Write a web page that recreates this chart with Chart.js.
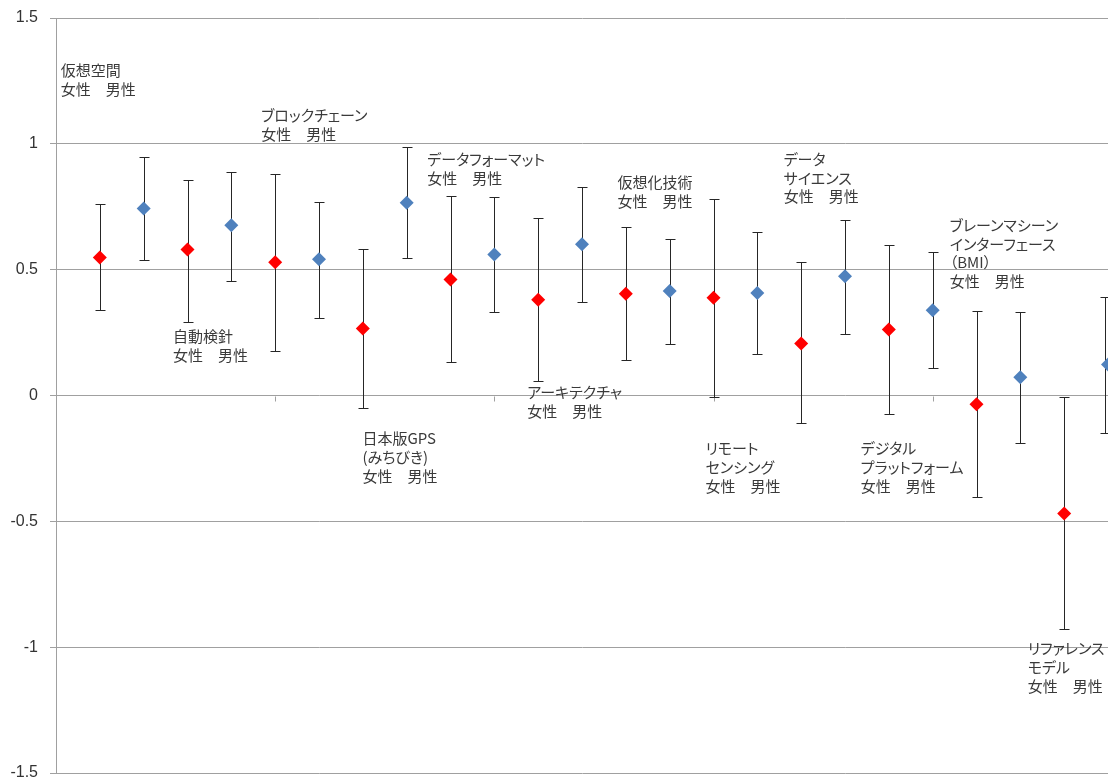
<!DOCTYPE html>
<html>
<head>
<meta charset="utf-8">
<script src="https://cdn.jsdelivr.net/npm/chart.js@4"></script>
<style>
html, body { margin: 0; padding: 0; overflow: hidden; background: #fff; }
#wrap { width: 1108px; height: 790px; position: relative; }
.caption {
    position: absolute;
    font-family: "Noto Sans CJK JP", sans-serif;
    font-size: 15px;
    line-height: 18.7px;
    color: #3a3a3a;
    white-space: nowrap;
    font-feature-settings: "palt";
}
</style>
</head>
<body>
<div id="wrap"><canvas id="chart" width="1108" height="790"></canvas></div>
<script>
// Categories (each has a female / male pair)
var categories = [
    ['仮想空間'], ['自動検針'], ['ブロックチェーン'], ['日本版GPS', '(みちびき)'],
    ['データフォーマット'], ['アーキテクチャ'], ['仮想化技術'], ['リモート', 'センシング'],
    ['データ', 'サイエンス'], ['デジタル', 'プラットフォーム'],
    ['ブレーンマシーン', 'インターフェース', '（BMI）'], ['リファレンス', 'モデル']
];
var pairLabel = '女性　男性';

// Female values (red)
var femaleMean = [0.548, 0.580, 0.529, 0.266, 0.461, 0.380, 0.404, 0.388, 0.207, 0.262, -0.035, -0.469];
var femaleHigh = [0.759, 0.858, 0.882, 0.581, 0.791, 0.705, 0.668, 0.780, 0.529, 0.599, 0.335, -0.004];
var femaleLow  = [0.338, 0.294, 0.175, -0.050, 0.135, 0.056, 0.143, -0.004, -0.111, -0.075, -0.403, -0.929];

// Male values (blue)
var maleMean = [0.743, 0.676, 0.541, 0.766, 0.560, 0.601, 0.415, 0.407, 0.474, 0.339, 0.073, 0.123];
var maleHigh = [0.947, 0.888, 0.768, 0.986, 0.787, 0.828, 0.621, 0.649, 0.697, 0.570, 0.330, 0.391];
var maleLow  = [0.537, 0.453, 0.306, 0.545, 0.330, 0.372, 0.203, 0.163, 0.246, 0.111, -0.188, -0.148];

var yTicks = [-1.5, -1, -0.5, 0, 0.5, 1, 1.5];
var xTickMarks = [5, 10, 15, 20];

// where each category caption sits (x in point units, y of first line in value units)
var captionAnchor = [
    [0.11, 1.292], [2.67, 0.234], [4.68, 1.113], [6.99, -0.171], [8.47, 0.938], [10.75, 0.012],
    [12.81, 0.847], [14.82, -0.211], [16.6, 0.938], [18.36, -0.211], [20.39, 0.676], [22.17, -1.006]
];

function buildPoints(mean, low, high, offset) {
    var pts = [];
    for (var i = 0; i < mean.length; i++) {
        pts.push({ x: i * 2 + offset, y: mean[i], low: low[i], high: high[i] });
    }
    return pts;
}

var gridColor = '#a0a0a0';

var errorBars = {
    id: 'errorBars',
    beforeDatasetsDraw: function (chart) {
        var ctx = chart.ctx, xs = chart.scales.x, ys = chart.scales.y;
        ctx.save();
        // small tick marks under the zero line
        ctx.strokeStyle = gridColor;
        ctx.lineWidth = 1;
        var y0 = Math.round(ys.getPixelForValue(0)) + 0.5;
        xTickMarks.forEach(function (v) {
            var x = Math.round(xs.getPixelForValue(v)) + 0.5;
            ctx.beginPath();
            ctx.moveTo(x, y0);
            ctx.lineTo(x, y0 + 5);
            ctx.stroke();
        });
        ctx.strokeStyle = '#262626';
        chart.data.datasets.forEach(function (ds) {
            ds.data.forEach(function (p) {
                var x = Math.min(Math.round(xs.getPixelForValue(p.x)), chart.width - 3) + 0.5;
                var top = Math.round(ys.getPixelForValue(p.high)) + 0.5;
                var bot = Math.round(ys.getPixelForValue(p.low)) + 0.5;
                ctx.beginPath();
                ctx.moveTo(x, top);
                ctx.lineTo(x, bot);
                ctx.moveTo(x - 5, top);
                ctx.lineTo(x + 5, top);
                ctx.moveTo(x - 5, bot);
                ctx.lineTo(x + 5, bot);
                ctx.stroke();
            });
        });
        ctx.restore();
    },
    afterRender: function (chart) {
        // category captions as html text so proportional kana can be used
        var wrap = document.getElementById('wrap');
        var xs = chart.scales.x, ys = chart.scales.y;
        var old = wrap.querySelectorAll('.caption');
        for (var k = 0; k < old.length; k++) wrap.removeChild(old[k]);
        categories.forEach(function (lines, i) {
            var div = document.createElement('div');
            div.className = 'caption';
            div.innerHTML = lines.concat([pairLabel]).join('<br>');
            div.style.left = xs.getPixelForValue(captionAnchor[i][0]) + 'px';
            div.style.top = (ys.getPixelForValue(captionAnchor[i][1]) - 9.35) + 'px';
            wrap.appendChild(div);
        });
    }
};

var ctx = document.getElementById('chart').getContext('2d');
var chart = new Chart(ctx, {
    type: 'scatter',
    data: {
        datasets: [{
            label: '女性',
            data: buildPoints(femaleMean, femaleLow, femaleHigh, 1),
            pointStyle: 'rectRot',
            pointRadius: 7,
            pointHoverRadius: 7,
            backgroundColor: '#ff0000',
            borderColor: '#ff0000',
            borderWidth: 0
        }, {
            label: '男性',
            data: buildPoints(maleMean, maleLow, maleHigh, 2),
            pointStyle: 'rectRot',
            pointRadius: 7,
            pointHoverRadius: 7,
            backgroundColor: '#4f81bd',
            borderColor: '#4f81bd',
            borderWidth: 0
        }]
    },
    options: {
        responsive: false,
        animation: false,
        layout: { autoPadding: false, padding: { top: 18, bottom: 17, left: 0, right: 0 } },
        plugins: {
            legend: { display: false },
            tooltip: { enabled: false }
        },
        scales: {
            x: {
                type: 'linear',
                min: 0,
                max: 24,
                display: false
            },
            y: {
                min: -1.5,
                max: 1.5,
                afterBuildTicks: function (scale) {
                    scale.ticks = yTicks.map(function (v) { return { value: v }; });
                },
                afterFit: function (scale) {
                    scale.width = 56;
                    scale.paddingTop = 0;
                    scale.paddingBottom = 0;
                },
                grid: { color: gridColor, tickLength: 6, tickColor: gridColor },
                border: { display: true, color: gridColor },
                ticks: {
                    padding: 12,
                    color: '#333',
                    font: { family: '"Liberation Sans", Arial, sans-serif', size: 16 },
                    callback: function (v) { return String(v); }
                }
            }
        }
    },
    plugins: [errorBars]
});
</script>
</body>
</html>
